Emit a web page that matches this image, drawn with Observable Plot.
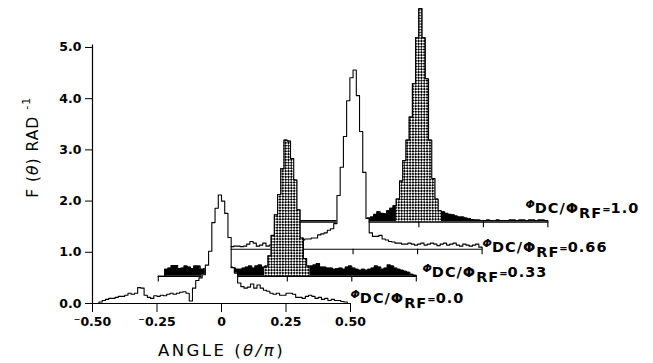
<!DOCTYPE html>
<html>
<head>
<meta charset="utf-8">
<script src="https://cdn.jsdelivr.net/npm/d3@7"></script>
<script src="https://cdn.jsdelivr.net/npm/@observablehq/plot@0.6"></script>
<style>
  html, body { margin: 0; padding: 0; background: #fff; }
</style>
</head>
<body>
<div id="chart"></div>
<script>
// ---------- data ----------
const seriesNames = ["0.0", "0.33", "0.66", "1.0"];

// F(theta) per bin of width 0.0125 in theta/pi, from -0.5 to 0.5 (80 bins)
const f00 = [0,0,0.03,0.06,0.08,0.1,0.1,0.12,0.14,0.14,
  0.16,0.2,0.18,0.2,0.31,0.3,0.16,0.12,0.1,0.15,
  0.14,0.16,0.15,0.18,0.2,0.18,0.2,0.22,0.23,0.2,
  0.05,0.3,0.45,0.5,0.56,0.75,1.02,1.58,1.86,2.12,
  2.0,1.76,1.29,0.7,0.59,0.4,0.33,0.3,0.32,0.38,
  0.3,0.36,0.3,0.26,0.24,0.2,0.18,0.2,0.16,0.16,
  0.2,0.2,0.18,0.12,0.12,0.1,0.14,0.16,0.14,0.1,
  0.12,0.08,0.1,0.06,0.08,0.06,0.06,0.04,0.03,0];

const f033 = [0,0,0.14,0.16,0.21,0.21,0.15,0.16,0.2,0.18,
  0.15,0.2,0.2,0.14,0.15,0.16,0.18,0.17,0.16,0.18,
  0.17,0.16,0.18,0.16,0.14,0.14,0.16,0.18,0.2,0.16,
  0.2,0.22,0.18,0.2,0.4,0.8,1.2,1.6,2.1,2.66,
  2.64,2.3,1.88,1.3,0.75,0.35,0.2,0.2,0.22,0.25,
  0.18,0.18,0.16,0.16,0.14,0.15,0.16,0.14,0.18,0.2,
  0.16,0.14,0.12,0.14,0.12,0.14,0.16,0.2,0.18,0.14,
  0.16,0.22,0.2,0.16,0.14,0.12,0.1,0.08,0.04,0.02];

const f066 = [0.05,0.05,0.05,0.06,0.06,0.05,0.06,0.1,0.15,0.12,
  0.06,0.08,0.12,0.06,0.08,0.1,0.1,0.12,0.12,0.14,
  0.15,0.16,0.18,0.18,0.18,0.2,0.2,0.22,0.22,0.28,
  0.3,0.32,0.37,0.4,0.5,1.05,1.6,2.2,2.9,3.35,
  3.5,3.0,2.3,1.5,0.6,0.32,0.25,0.25,0.27,0.2,
  0.18,0.15,0.14,0.12,0.12,0.1,0.1,0.12,0.1,0.08,
  0.1,0.12,0.08,0.1,0.12,0.1,0.07,0.1,0.12,0.08,
  0.1,0.12,0.08,0.06,0.1,0.08,0.06,0.08,0.1,0.04];

const f100 = [0.03,0.03,0.03,0.03,0.03,0.03,0.03,0.03,0.03,0.03,
  0.03,0.03,0.03,0.03,0.03,0.04,0.04,0.05,0.05,0.05,
  0.06,0.06,0.06,0.07,0.08,0.1,0.15,0.2,0.17,0.16,
  0.22,0.27,0.32,0.45,0.8,1.2,1.6,2.05,2.7,3.6,
  4.17,3.6,2.8,1.6,0.85,0.45,0.22,0.2,0.17,0.15,
  0.14,0.12,0.1,0.1,0.08,0.07,0.05,0.04,0.04,0.03,
  0.03,0.04,0.03,0.03,0.04,0.03,0.03,0.03,0.04,0.04,
  0.03,0.04,0.04,0.03,0.04,0.04,0.03,0.04,0.04,0.03];

const seriesValues = [f00, f033, f066, f100];
const seriesFill = ["open", "hatched", "open", "hatched"];

const binStart = -0.5;
const binWidth = 0.0125;
const coreLo = -0.0875, coreHi = 0.0875;   // cross-hatched central part

const xTicks = [-0.5, -0.25, 0, 0.25, 0.5];
const xTickLabels = ["\u207B0.50", "\u207B0.25", "0", "0.25", "0.50"];
const yTicks = [0, 1, 2, 3, 4, 5];
const yTickLabels = ["0.0", "1.0", "2.0", "3.0", "4.0", "5.0"];
const seriesTicks = [-0.5, -0.25, 0, 0.25, 0.5];

const xTitle = "ANGLE (\u03B8/\u03C0)";
const yTitle = "F (\u03B8) RAD";

// ---------- layout ----------
const xShift = 0.255;   // waterfall offset per series (theta/pi)
const yShift = 0.53;    // waterfall offset per series (F units)
const labelNudgeX = [0, 0.024, 0.002, -0.087];
const labelNudgeY = [0.1, 0.075, 0.035, 0.27];

function stairs(k, lo = -Infinity, hi = Infinity) {
  const vals = seriesValues[k], base = k * yShift, off = k * xShift;
  const pts = [];
  let started = false, lastX = null;
  vals.forEach((v, i) => {
    const a = binStart + i * binWidth, b = a + binWidth, c = a + binWidth / 2;
    if (c < lo || c > hi) return;
    if (!started) { pts.push({x: a + off, y: base}); started = true; }
    pts.push({x: a + off, y: base + v}, {x: b + off, y: base + v});
    lastX = b + off;
  });
  pts.push({x: lastX, y: base});
  return pts;
}

const marks = [];
for (let k = 3; k >= 0; k--) {
  const base = k * yShift, off = k * xShift;
  const pts = stairs(k);
  if (seriesFill[k] === "open") {
    marks.push(Plot.areaY(pts, {x: "x", y1: () => base, y2: "y", fill: "white"}));
  } else {
    marks.push(Plot.areaY(pts, {x: "x", y1: () => base, y2: "y", fill: "black"}));
    marks.push(Plot.areaY(stairs(k, coreLo, coreHi), {x: "x", y1: () => base, y2: "y", fill: "#010101"}));
  }
  marks.push(Plot.line(pts, {x: "x", y: "y", stroke: "black", strokeWidth: 1.1}));
  if (k > 0) {
    marks.push(Plot.ruleY([base], {x1: () => -0.5 + off, x2: () => 0.5 + off, stroke: "black", strokeWidth: 1.1}));
    marks.push(Plot.ruleX(seriesTicks.map(t => t + off), {y1: () => base, y2: () => base - 0.11, stroke: "black", strokeWidth: 1.1}));
  }
}
// main axes lines
marks.push(Plot.ruleY([0], {x1: () => -0.5, x2: () => 0.5, stroke: "black", strokeWidth: 1.2}));
marks.push(Plot.ruleX([-0.5], {y1: () => 0, y2: () => 5.05, stroke: "black", strokeWidth: 1.2}));

// series labels
marks.push(Plot.text(seriesNames, {
  x: (d, i) => 0.5 + i * xShift + labelNudgeX[i],
  y: (d, i) => i * yShift + labelNudgeY[i],
  text: d => "\u03A6DC/\u03A6RF=" + d,
  textAnchor: "start", fontSize: 14.5, fontWeight: "bold", fontFamily: "DejaVu Sans"
}));
// axis titles
marks.push(Plot.text([xTitle], {x: () => 0, y: () => 0, dy: 47, text: d => d,
  fontSize: 16.5, fontWeight: "normal", fontFamily: "DejaVu Sans"}));
marks.push(Plot.text([yTitle], {x: () => -0.5, y: () => 3.05, dx: -59, rotate: -90, text: d => d,
  fontSize: 15.5, fontWeight: "normal", fontFamily: "DejaVu Sans"}));

const svg = Plot.plot({
  width: 653,
  height: 363,
  marginLeft: 92,
  marginRight: 96.6,
  marginTop: 6,
  marginBottom: 60,
  style: {fontFamily: "DejaVu Sans", fontSize: "12.5px", fontWeight: "bold", background: "white", color: "black"},
  x: {domain: [-0.5, 1.3], ticks: xTicks, tickFormat: d => xTickLabels[xTicks.indexOf(d)], tickSize: 9, tickPadding: 5, label: null},
  y: {domain: [0, 5.8], ticks: yTicks, tickFormat: d => yTickLabels[yTicks.indexOf(d)], tickSize: 7, tickPadding: 4, label: null},
  marks
});

// ---------- post-processing: pattern + rich text ----------
const S = d3.select(svg);
const defs = S.insert("defs", ":first-child");
const pat = defs.append("pattern").attr("id", "xh").attr("patternUnits", "userSpaceOnUse")
  .attr("width", 4).attr("height", 4).attr("patternTransform", "rotate(45)");
pat.append("rect").attr("width", 4).attr("height", 4).attr("fill", "white");
pat.append("rect").attr("width", 2).attr("height", 2).attr("fill", "black");
pat.append("rect").attr("x", 2).attr("y", 2).attr("width", 2).attr("height", 2).attr("fill", "black");
S.selectAll('[fill="#010101"]').attr("fill", "url(#xh)");

function rebuild(el, parts) {
  const s = d3.select(el);
  s.text(null);
  for (const p of parts) {
    const ts = s.append("tspan").text(p.t);
    if (p.dy) ts.attr("dy", p.dy);
    if (p.size) ts.attr("font-size", p.size);
    if (p.italic) ts.attr("font-style", "italic");
    if (p.ls) ts.attr("letter-spacing", p.ls);
  }
}
S.selectAll("text").each(function () {
  const t = this.textContent;
  if (t.startsWith("\u03A6DC/")) {
    const v = t.split("=")[1];
    rebuild(this, [
      {t: "\u03A6", dy: -5, size: 11, italic: true},
      {t: "DC/\u03A6", dy: 5, ls: 1},
      {t: "RF", dy: 5, ls: 1},
      {t: "=", dy: -5, size: 10},
      {t: v, ls: 1}
    ]);
  } else if (t === xTitle) {
    d3.select(this).attr("letter-spacing", 2.5);
    rebuild(this, [{t: "ANGLE ("}, {t: "\u03B8/\u03C0", italic: true}, {t: ")"}]);
  } else if (t === yTitle) {
    d3.select(this).attr("letter-spacing", 1);
    rebuild(this, [{t: "F ("}, {t: "\u03B8", italic: true}, {t: ") RAD "}, {t: "-1", dy: -8, size: 11}]);
  }
});

document.getElementById("chart").appendChild(svg);
</script>
</body>
</html>
